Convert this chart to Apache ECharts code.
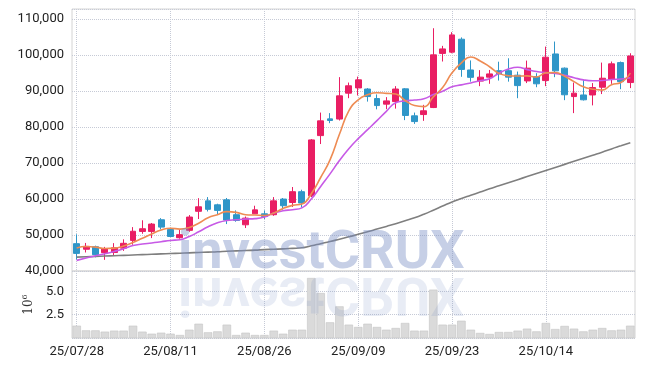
<!DOCTYPE html>
<html>
<head>
<meta charset="utf-8">
<script src="https://cdn.jsdelivr.net/npm/echarts@6/dist/echarts.min.js"></script>
<style>
  html, body { margin: 0; padding: 0; background: #fff; }
  #chart { width: 645px; height: 366px; }
</style>
</head>
<body>
<div id="chart"></div>
<script>
// trading days, YY/MM/DD
const dates = [
  '25/07/28', '25/07/29', '25/07/30', '25/07/31', '25/08/01',
  '25/08/04', '25/08/05', '25/08/06', '25/08/07', '25/08/08',
  '25/08/11', '25/08/12', '25/08/13', '25/08/14', '25/08/18',
  '25/08/19', '25/08/20', '25/08/21', '25/08/22', '25/08/25',
  '25/08/26', '25/08/27', '25/08/28', '25/08/29', '25/09/01',
  '25/09/02', '25/09/03', '25/09/04', '25/09/05', '25/09/08',
  '25/09/09', '25/09/10', '25/09/11', '25/09/12', '25/09/15',
  '25/09/16', '25/09/17', '25/09/18', '25/09/19', '25/09/22',
  '25/09/23', '25/09/24', '25/09/25', '25/09/26', '25/09/29',
  '25/09/30', '25/10/01', '25/10/02', '25/10/10', '25/10/13',
  '25/10/14', '25/10/15', '25/10/16', '25/10/17', '25/10/20',
  '25/10/21', '25/10/22', '25/10/23', '25/10/24', '25/10/27'
];

const opens = [
  47600, 46050, 46750, 45100, 45150, 46350, 48500, 51000, 51000, 54250,
  51550, 49250, 51300, 56600, 59500, 58400, 59800, 55650, 52850, 55900,
  55900, 55650, 60000, 59050, 62050, 60900, 77650, 82300, 82250, 89450,
  90900, 90600, 87950, 86400, 87100, 90650, 83150, 83500, 85450, 100500,
  100850, 104450, 95900, 92800, 93900, 95700, 95700, 94450, 92850, 94050,
  92950, 100350, 96400, 88500, 88950, 88950, 91100, 93350, 97950, 92400
];
const closes = [
  44900, 46850, 44550, 46200, 46450, 47700, 51050, 51750, 53050, 52200,
  49600, 50100, 55000, 57850, 57150, 56850, 54150, 54050, 54700, 57000,
  55150, 59500, 58150, 62050, 58900, 76450, 81750, 81850, 88700, 91500,
  93150, 88500, 86000, 87300, 90600, 83250, 81550, 84550, 100100, 101750,
  105650, 96050, 93850, 93900, 94800, 94800, 93900, 91550, 96400, 92050,
  99450, 95650, 89000, 89450, 87600, 91000, 93600, 97600, 92650, 99800
];
const lows = [
  43200, 45150, 43800, 43100, 44250, 45600, 47300, 50350, 49150, 51550,
  49450, 49000, 50900, 54450, 56550, 55650, 53050, 53700, 51950, 55850,
  54450, 55350, 57050, 57800, 57650, 60550, 75300, 81100, 81850, 88050,
  88800, 87100, 84950, 85000, 85150, 81950, 80900, 81750, 85300, 98250,
  100550, 94000, 92650, 91400, 92050, 92950, 92650, 88050, 92250, 91100,
  91400, 93900, 87500, 83900, 87400, 86050, 89200, 92050, 90550, 90850
];
const highs = [
  50200, 47800, 47050, 46700, 47750, 48800, 52200, 54100, 53350, 54700,
  51850, 51450, 55550, 60250, 60550, 58700, 60300, 56850, 55150, 58150,
  56850, 60550, 60300, 63350, 62600, 76700, 84050, 83900, 93900, 92400,
  94050, 90850, 89100, 88350, 91400, 90850, 84050, 86200, 107500, 102600,
  106400, 104950, 98550, 95850, 95900, 98200, 99150, 95450, 98500, 95000,
  102400, 103800, 96600, 92400, 93150, 92250, 97950, 98250, 98250, 100550
];

// moving averages
const ma5 = [
  46400, 46800, 46650, 46250, 46350, 46950, 47900, 49100, 50300, 51400,
  51900, 51650, 52100, 53300, 54800, 55650, 56500, 56300, 55650, 55550,
  55450, 56100, 57400, 58250, 58600, 61500, 66000, 70900, 78000, 84500,
  87600, 89000, 89550, 89400, 89200, 87400, 86000, 85700, 88400, 91000,
  95100, 97900, 99500, 98400, 96800, 94950, 94300, 94200, 94250, 93950,
  95100, 95200, 94150, 92650, 91200, 90550, 90300, 91800, 92400, 95000
];
const ma10 = [
  42950, 43600, 44250, 44800, 45450, 46200, 47100, 47500, 47800, 48150,
  48500, 48700, 49600, 50900, 52300, 53400, 54050, 54250, 54450, 54550,
  55000, 56100, 56750, 57050, 57550, 60000, 63500, 67000, 70700, 74000,
  76800, 79300, 81800, 84400, 86800, 87300, 87550, 87900, 89050, 90000,
  91200, 91750, 92300, 92900, 93450, 95000, 96150, 96650, 96000, 95450,
  95150, 94900, 94400, 93750, 93150, 92900, 92950, 93250, 93400, 93750
];
const ma60 = [
  43850, 43950, 44050, 44150, 44250, 44350, 44450, 44550, 44650, 44750,
  44850, 44950, 45050, 45150, 45250, 45350, 45500, 45600, 45700, 45800,
  45950, 46050, 46150, 46300, 46450, 47000, 47600, 48200, 48850, 49500,
  50200, 50900, 51650, 52400, 53150, 53950, 54800, 55800, 56900, 58050,
  59200, 60150, 61050, 61950, 62850, 63700, 64550, 65400, 66250, 67100,
  67950, 68800, 69650, 70500, 71350, 72200, 73050, 73950, 74800, 75650
];

// volume in millions
const volume = [
  1.32, 0.82, 0.82, 0.68, 0.79, 0.79, 1.32, 0.68, 0.46, 0.57,
  0.46, 0.32, 0.89, 1.53, 0.61, 0.71, 1.43, 0.32, 0.57, 0.32,
  0.32, 0.79, 0.46, 0.89, 0.89, 6.43, 4.82, 1.68, 3.39, 1.43,
  1.18, 1.53, 1.18, 0.89, 1.07, 1.61, 0.79, 0.79, 5.18, 1.43,
  1.43, 1.85, 0.89, 0.54, 0.43, 0.64, 0.64, 0.79, 1.00, 0.71,
  1.61, 0.96, 1.29, 1.00, 0.71, 0.89, 1.07, 0.82, 0.89, 1.32
];

const candles = dates.map((d, i) => [opens[i], closes[i], lows[i], highs[i]]);

const upColor = '#e91e63';
const downColor = '#2f96c8';
const labelFont = { fontFamily: 'Roboto', fontSize: 13, color: '#222' };
const dotted = { show: true, lineStyle: { color: '#c6cad6', type: 'dotted', width: 1 } };

const chart = echarts.init(document.getElementById('chart'));

chart.setOption({
  animation: false,
  backgroundColor: '#fff',
  grid: [
    { left: 72, right: 10, top: 9, height: 262, show: true, borderColor: '#d4d4d4', borderWidth: 1 },
    { left: 72, right: 10, top: 271, height: 67, show: true, borderColor: '#d4d4d4', borderWidth: 1 }
  ],
  xAxis: [
    {
      type: 'category', gridIndex: 0, data: dates,
      axisLine: { show: false }, axisTick: { show: false }, axisLabel: { show: false },
      splitLine: Object.assign({ interval: 9, alignWithLabel: true }, dotted)
    },
    {
      type: 'category', gridIndex: 1, data: dates,
      axisLine: { show: false }, axisTick: { show: false },
      axisLabel: Object.assign({ interval: 9, margin: 7 }, labelFont),
      splitLine: Object.assign({ interval: 9, alignWithLabel: true }, dotted)
    }
  ],
  yAxis: [
    {
      type: 'value', gridIndex: 0, min: 40000, max: 112850, interval: 10000,
      axisLine: { show: false }, axisTick: { show: false },
      axisLabel: Object.assign({
        margin: 8, showMaxLabel: false, padding: [4, 0, 0, 0],
        formatter: v => v.toLocaleString('en-US')
      }, labelFont),
      splitLine: dotted
    },
    {
      type: 'value', gridIndex: 1, min: 0, max: 7.18, interval: 2.5,
      axisLine: { show: false }, axisTick: { show: false },
      axisLabel: Object.assign({
        margin: 8, showMinLabel: false, showMaxLabel: false,
        formatter: v => v.toFixed(1)
      }, labelFont),
      splitLine: dotted,
      name: '{a|10}{b|6}',
      nameLocation: 'middle',
      nameRotate: 90,
      nameGap: 33,
      nameTextStyle: {
        rich: {
          a: { fontFamily: 'DejaVu Serif', fontSize: 12, color: '#333', lineHeight: 16 },
          b: { fontFamily: 'DejaVu Serif', fontSize: 8, color: '#333', lineHeight: 9, verticalAlign: 'top' }
        }
      }
    }
  ],
  series: [
    {
      name: 'price', type: 'candlestick', xAxisIndex: 0, yAxisIndex: 0,
      data: candles, barWidth: '68%',
      itemStyle: { color: upColor, color0: downColor, borderColor: upColor, borderColor0: downColor, borderWidth: 1 }
    },
    {
      name: 'MA60', type: 'line', xAxisIndex: 0, yAxisIndex: 0, data: ma60,
      symbol: 'none', smooth: true, lineStyle: { color: '#7f7f7f', width: 1.6 }
    },
    {
      name: 'MA10', type: 'line', xAxisIndex: 0, yAxisIndex: 0, data: ma10,
      symbol: 'none', smooth: true, lineStyle: { color: '#c75ae6', width: 1.6 }
    },
    {
      name: 'MA5', type: 'line', xAxisIndex: 0, yAxisIndex: 0, data: ma5,
      symbol: 'none', smooth: true, lineStyle: { color: '#ee8b53', width: 1.6 }
    },
    {
      name: 'volume', type: 'bar', xAxisIndex: 1, yAxisIndex: 1, data: volume,
      barCategoryGap: '10%',
      itemStyle: { color: '#dadada', borderColor: '#c4c4c4', borderWidth: 0.6 }
    }
  ],
  graphic: [
    {
      type: 'text', x: 178, y: 272, z: 100, silent: true,
      style: {
        text: 'investCRUX', x: 0, y: -18, verticalAlign: 'middle',
        font: 'bold 54px Roboto', fill: 'rgba(120,140,195,0.42)'
      }
    },
    {
      type: 'text', x: 178, y: 273, z: 100, silent: true, scaleY: -1,
      style: {
        text: 'investCRUX', x: 0, y: -18, verticalAlign: 'middle',
        font: 'bold 54px Roboto', fill: 'rgba(120,140,195,0.17)'
      }
    }
  ]
});
</script>
</body>
</html>
